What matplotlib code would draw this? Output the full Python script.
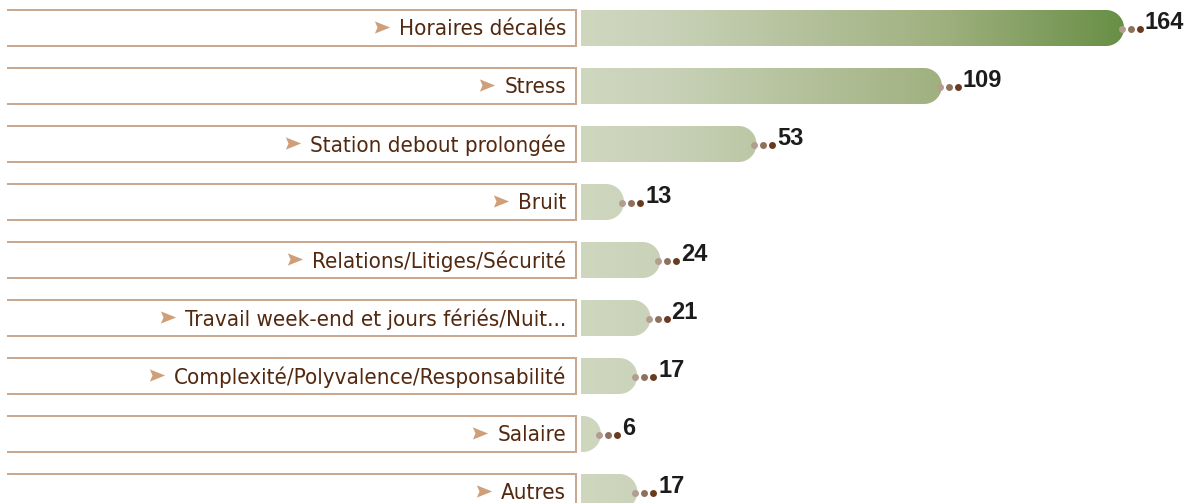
import numpy as np
import matplotlib
matplotlib.use('Agg')
import matplotlib.pyplot as plt
from matplotlib.path import Path
from matplotlib.patches import PathPatch
from matplotlib.colors import LinearSegmentedColormap
from matplotlib.transforms import offset_copy

# Données
categories = ['Horaires décalés', 'Stress', 'Station debout prolongée', 'Bruit',
              'Relations/Litiges/Sécurité', 'Travail week-end et jours fériés/Nuit...',
              'Complexité/Polyvalence/Responsabilité', 'Salaire', 'Autres']
valeurs = [164, 109, 53, 13, 24, 21, 17, 6, 17]

# Mise en page (pixels)
W, H = 1189, 503
ppu = (1124 - 581) / 164      # pixels par unité
x0_px = 581                   # début des barres
row_px = 58                   # écart entre les lignes
first_px = 28                 # centre de la première ligne
bar_h = 36 / row_px           # hauteur de barre en unités de ligne

fig = plt.figure(figsize=(W / 100, H / 100), dpi=100)
ax = fig.add_axes([0, 0, 1, 1])
ax.set_xlim(-x0_px / ppu, (W - x0_px) / ppu)
ax.set_ylim((H - first_px) / row_px, -first_px / row_px)
ax.axis('off')

cmap = LinearSegmentedColormap.from_list(
    'vert', [(0, '#cfd7bf'), (0.15, '#c9d2b8'), (0.66, '#a0b180'), (1, '#688f46')])
grad = np.linspace(0, 1, 256).reshape(1, -1)
vmax = max(valeurs)

brun = '#52280f'
beige = '#c9a58a'
box_left = (8 - x0_px) / ppu
box_right = (576 - x0_px) / ppu

fig.canvas.draw()
renderer = fig.canvas.get_renderer()

for i, (cat, v) in enumerate(zip(categories, valeurs)):
    y_top = i - bar_h / 2
    y_bot = i + bar_h / 2

    # cadre de l'étiquette (sans bord gauche)
    ax.plot([box_left, box_right, box_right, box_left],
            [y_top, y_top, y_bot, y_bot], color=beige, lw=1.4,
            solid_joinstyle='miter')

    t = ax.text(box_right - 10 / ppu, i + 0.02, cat, ha='right', va='center',
                fontsize=16, color=brun, fontstretch='condensed',
                family=['DejaVu Sans'])
    bb = t.get_window_extent(renderer)
    ax_x = ax.transData.inverted().transform((bb.x0 - 17, 0))[0]
    ax.plot(ax_x, i - 0.01, marker=[(-1, -0.8), (1, 0), (-1, 0.8), (-0.65, 0)],
            markersize=11, color='#cf9f7a', mec='none')

    # barre arrondie à droite
    rx = min(18 / ppu, v)
    ry = bar_h / 2
    ang = np.linspace(np.pi / 2, -np.pi / 2, 40)
    xs = [0, v - rx] + list(v - rx + rx * np.cos(ang)) + [v - rx, 0]
    ys = [y_top, y_top] + list(i - ry * np.sin(ang)) + [y_bot, y_bot]
    path = Path(np.column_stack([xs, ys]))
    patch = PathPatch(path, facecolor='none', edgecolor='none')
    ax.add_patch(patch)
    im = ax.imshow(grad, cmap=cmap, aspect='auto', extent=[0, vmax, y_bot, y_top],
                   interpolation='bicubic', zorder=1)
    im.set_clip_path(patch)

    # points et valeur
    for dx, c in zip([-2, 7, 16], ['#b29e8e', '#8e715c', '#6a3a1e']):
        tr = offset_copy(ax.transData, fig=fig, x=dx, y=-1, units='dots')
        ax.plot(v, i, 'o', ms=5.0, color=c, mec='none', transform=tr, zorder=3)
    tr = offset_copy(ax.transData, fig=fig, x=21, y=5, units='dots')
    ax.text(v, i, str(v), ha='left', va='center', fontsize=17,
            fontweight='bold', color='#1c1c1c', transform=tr,
            family=['Liberation Sans', 'DejaVu Sans'])

ax.set_xlim(-x0_px / ppu, (W - x0_px) / ppu)
ax.set_ylim((H - first_px) / row_px, -first_px / row_px)

plt.savefig('out.png', dpi=100)
